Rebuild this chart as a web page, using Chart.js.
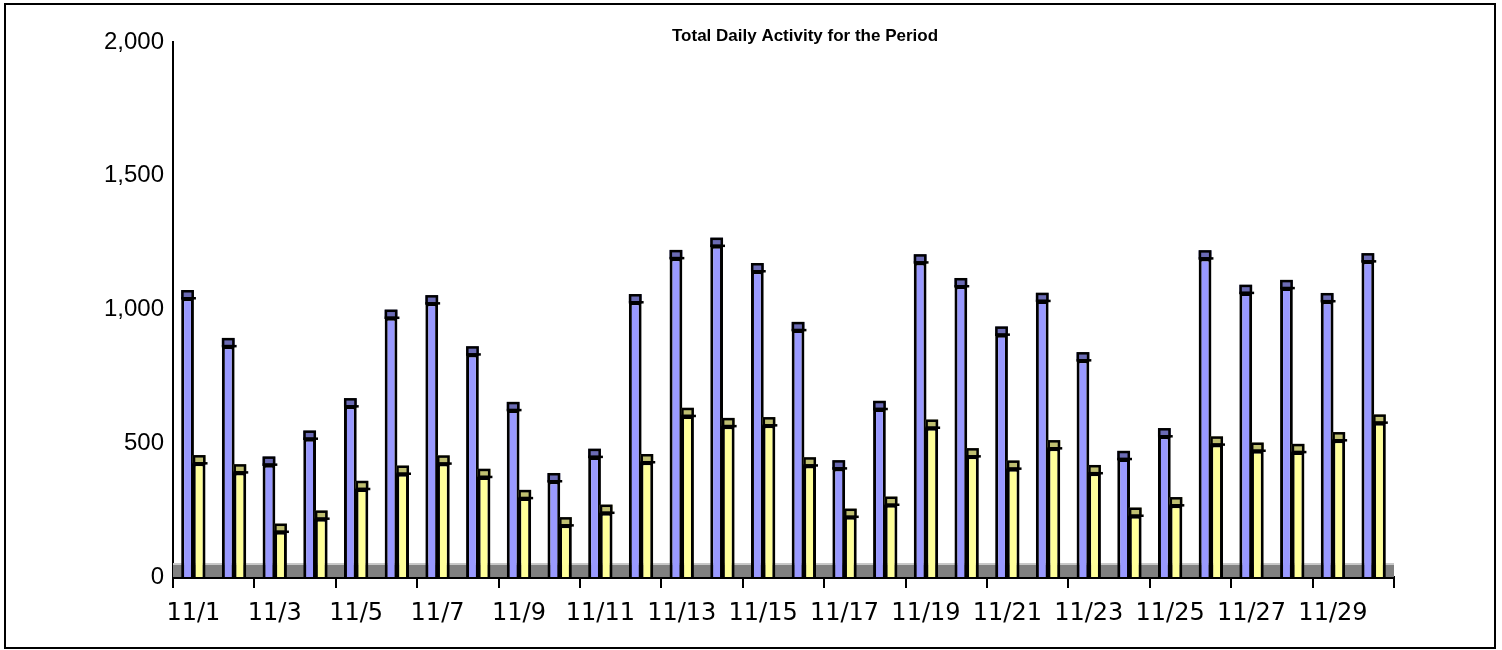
<!DOCTYPE html>
<html>
<head>
<meta charset="utf-8">
<script src="https://cdn.jsdelivr.net/npm/chart.js@4/dist/chart.umd.min.js"></script>
<style>
  body { margin: 0; background: #fff; }
  #frame { position: absolute; left: 4px; top: 3px; width: 1492px; height: 646px;
           box-sizing: border-box; border: 2px solid #000; }
  #wrap { position: absolute; left: 0; top: 0; width: 1488px; height: 642px; }
</style>
</head>
<body>
<div id="frame"><div id="wrap"><canvas id="Plot"></canvas></div></div>
<script>
var days = ['11/1','11/2','11/3','11/4','11/5','11/6','11/7','11/8','11/9','11/10',
            '11/11','11/12','11/13','11/14','11/15','11/16','11/17','11/18','11/19','11/20',
            '11/21','11/22','11/23','11/24','11/25','11/26','11/27','11/28','11/29','11/30'];
var series1 = [1042, 863, 420, 517, 638, 969, 1023, 832, 624, 358,
               449, 1027, 1192, 1238, 1143, 923, 406, 628, 1176, 1087,
               906, 1032, 810, 441, 526, 1191, 1062, 1080, 1031, 1180];
var series2 = [425, 391, 169, 218, 329, 386, 424, 374, 295, 193,
               240, 429, 602, 564, 567, 417, 225, 270, 558, 451,
               405, 481, 388, 229, 268, 495, 472, 467, 511, 577];
var yTicks = [0, 500, 1000, 1500, 2000];
var chartTitle = 'Total Daily Activity for the Period';

var capColors = ['#6b6bb5', '#bfbf70'];

// grey floor under the bars
var floorPlugin = {
  id: 'floor',
  beforeDatasetsDraw: function(chart) {
    var c = chart.ctx, a = chart.chartArea;
    var y0 = chart.scales.y.getPixelForValue(0);
    c.save();
    c.fillStyle = '#808080';
    c.fillRect(a.left, y0 - 12, a.right - a.left, 12);
    c.fillStyle = '#c8c8c8';
    c.fillRect(a.left, y0 - 14, a.right - a.left, 2);
    c.restore();
  }
};

// darker tops for the fake 3d look
var capPlugin = {
  id: 'caps',
  afterDatasetsDraw: function(chart) {
    var c = chart.ctx;
    c.save();
    chart.data.datasets.forEach(function(ds, i) {
      chart.getDatasetMeta(i).data.forEach(function(el) {
        var left = el.x - el.width / 2;
        var top = el.y;
        c.fillStyle = capColors[i];
        c.fillRect(left, top - 8, el.width, 8);
        c.strokeStyle = '#000';
        c.lineWidth = 2.5;
        c.strokeRect(left + 1.25, top - 7, el.width - 2.5, 7);
        c.beginPath();
        c.moveTo(left, top);
        c.lineTo(left + el.width + 2, top);
        c.stroke();
      });
    });
    c.restore();
  }
};

var titlePlugin = {
  id: 'topTitle',
  afterDraw: function(chart) {
    var c = chart.ctx;
    c.save();
    c.font = "bold 17px 'Liberation Sans Narrow', 'Liberation Sans', sans-serif";
    c.fillStyle = '#000';
    c.textAlign = 'center';
    c.textBaseline = 'alphabetic';
    c.fillText(chartTitle, 799, 36);
    c.restore();
  }
};

var ctx = document.getElementById('Plot').getContext('2d');
var myChart = new Chart(ctx, {
  type: 'bar',
  data: {
    labels: days,
    datasets: [{
      data: series1,
      backgroundColor: '#9999ff',
      borderColor: '#000',
      borderWidth: 3
    }, {
      data: series2,
      backgroundColor: '#ffff99',
      borderColor: '#000',
      borderWidth: 3
    }]
  },
  options: {
    responsive: true,
    maintainAspectRatio: false,
    animation: false,
    datasets: { bar: { categoryPercentage: 0.57, barPercentage: 1.1 } },
    layout: { padding: { left: 0, right: 100, top: 37, bottom: 0 } },
    plugins: {
      legend: { display: false },
      title: { display: false },
      tooltip: { enabled: false }
    },
    scales: {
      x: {
        afterFit: function(s) { s.height = 70; },
        grid: {
          offset: true,
          drawOnChartArea: false,
          drawTicks: true,
          tickLength: 11,
          lineWidth: 2,
          color: function(c) {
            return (c.index === undefined || c.index % 2 === 0) ? '#000' : 'rgba(0,0,0,0)';
          }
        },
        border: { display: true, color: '#000', width: 3 },
        ticks: {
          autoSkip: false,
          maxRotation: 0,
          padding: 11,
          color: '#000',
          font: { family: "'DejaVu Sans'", size: 24 },
          callback: function(v, i) { return i % 2 === 0 ? days[i] : ''; }
        }
      },
      y: {
        min: 0,
        max: 2000,
        afterFit: function(s) { s.width = 167; },
        afterBuildTicks: function(s) { s.ticks = yTicks.map(function(v) { return { value: v }; }); },
        grid: { display: false, drawTicks: false },
        border: { display: true, color: '#000', width: 2 },
        ticks: {
          padding: 9,
          color: '#000',
          font: { family: "'Liberation Sans'", size: 24 }
        }
      }
    }
  },
  plugins: [floorPlugin, capPlugin, titlePlugin]
});
</script>
</body>
</html>
